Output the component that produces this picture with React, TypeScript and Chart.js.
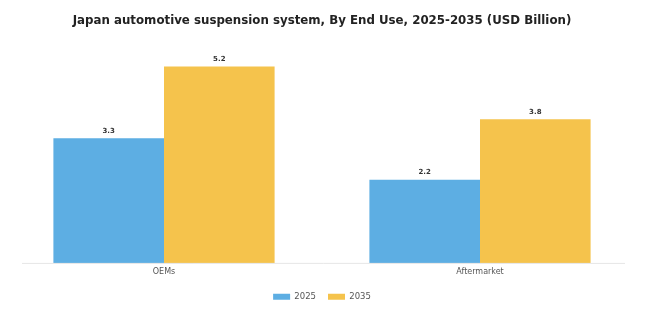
import React, { useEffect, useRef } from "react";
import { Chart, registerables } from "chart.js";

Chart.register(...registerables);

const categories = ["OEMs", "Aftermarket"];
const seriesNames = ["2025", "2035"];
const values2025 = [3.3, 2.2];
const values2035 = [5.2, 3.8];
const colors = ["#5DAEE3", "#F5C34C"];

const FONT = "'DejaVu Sans', sans-serif";

const valueLabels = {
  id: "valueLabels",
  afterDatasetsDraw(chart: any) {
    const ctx = chart.ctx;
    ctx.save();
    ctx.font = `bold 7px ${FONT}`;
    ctx.fillStyle = "#333";
    ctx.textAlign = "center";
    ctx.textBaseline = "bottom";
    chart.data.datasets.forEach((ds: any, i: number) => {
      const meta = chart.getDatasetMeta(i);
      meta.data.forEach((el: any, j: number) => {
        ctx.fillText(String(ds.data[j]), el.x, el.y - 4);
      });
    });
    ctx.restore();
  },
};

const baseline = {
  id: "baseline",
  afterDatasetsDraw(chart: any) {
    const { ctx, chartArea } = chart;
    ctx.save();
    ctx.strokeStyle = "#e6e6e6";
    ctx.lineWidth = 1;
    ctx.beginPath();
    ctx.moveTo(chartArea.left + 16, chartArea.bottom + 0.5);
    ctx.lineTo(chartArea.right - 13, chartArea.bottom + 0.5);
    ctx.stroke();
    ctx.restore();
  },
};

export default function App() {
  const ref = useRef<HTMLCanvasElement | null>(null);
  useEffect(() => {
    document.body.style.margin = "0";
    const chart = new Chart(ref.current!, {
      type: "bar",
      data: {
        labels: categories,
        datasets: [
          { label: seriesNames[0], data: values2025, backgroundColor: colors[0] },
          { label: seriesNames[1], data: values2035, backgroundColor: colors[1] },
        ],
      },
      options: {
        animation: false,
        responsive: false,
        maintainAspectRatio: false,
        layout: { padding: { left: 6, right: 7, top: 0, bottom: 13 } },
        datasets: { bar: { categoryPercentage: 0.7, barPercentage: 1.0 } },
        scales: {
          x: {
            grid: { display: false, drawTicks: false },
            border: { display: false },
            ticks: { color: "#555", font: { family: FONT, size: 8 }, padding: 4 },
          },
          y: { display: false, min: 0, max: 6 },
        },
        plugins: {
          title: {
            display: true,
            text: "Japan automotive suspension system, By End Use, 2025-2035 (USD Billion)",
            color: "#222",
            font: { family: FONT, size: 11.8, weight: "bold" },
            padding: { top: 14, bottom: 8 },
          },
          legend: {
            position: "bottom",
            labels: {
              boxWidth: 17,
              boxHeight: 6,
              color: "#555",
              font: { family: FONT, size: 8.5 },
              padding: 12,
            },
          },
          tooltip: { enabled: false },
        },
      },
      plugins: [valueLabels, baseline],
    });
    return () => chart.destroy();
  }, []);
  return (
    <div style={{ width: 645, height: 324 }}>
      <canvas ref={ref} width={645} height={324} style={{ width: 645, height: 324 }} />
    </div>
  );
}
